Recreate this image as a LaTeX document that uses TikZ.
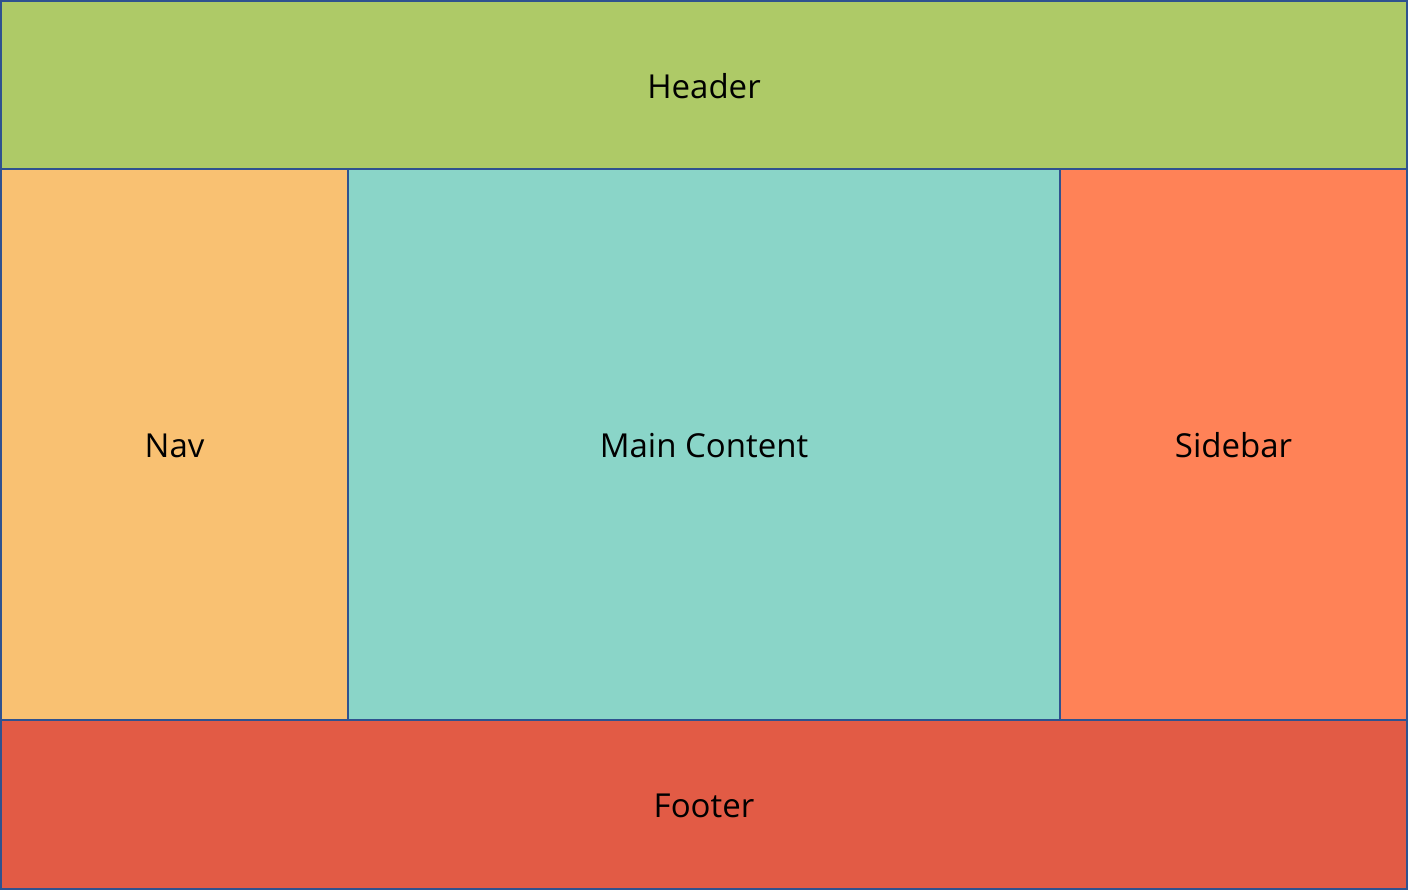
\documentclass[tikz,border=0pt]{standalone}
\usepackage{fontspec}
\setmainfont{Open Sans}
\definecolor{edge}{HTML}{2F528F}
\definecolor{headfill}{HTML}{AECA67}
\definecolor{navfill}{HTML}{F9C172}
\definecolor{mainfill}{HTML}{8AD5C8}
\definecolor{sidefill}{HTML}{FF8257}
\definecolor{footfill}{HTML}{E25B45}
\begin{document}
\begin{tikzpicture}[x=1pt,y=-1pt,
  region/.style={draw=edge,line width=2pt,font=\fontsize{33}{38}\selectfont,text=black}]
\useasboundingbox (0,0) rectangle (1408,890);
% page regions, laid out on a 1408 x 890 grid
\draw[region,fill=headfill] (1,1) rectangle (1407,169) node[midway,yshift=-1pt] (header) {Header};
\draw[region,fill=navfill] (1,169) rectangle (348,720) node[midway,yshift=-1pt] (nav) {Nav};
\draw[region,fill=mainfill] (348,169) rectangle (1060,720) node[midway,yshift=-1pt] (main) {Main Content};
\draw[region,fill=sidefill] (1060,169) rectangle (1407,720) node[midway,yshift=-1pt] (sidebar) {Sidebar};
\draw[region,fill=footfill] (1,720) rectangle (1407,889) node[midway,yshift=-1pt] (footer) {Footer};
\end{tikzpicture}
\end{document}
